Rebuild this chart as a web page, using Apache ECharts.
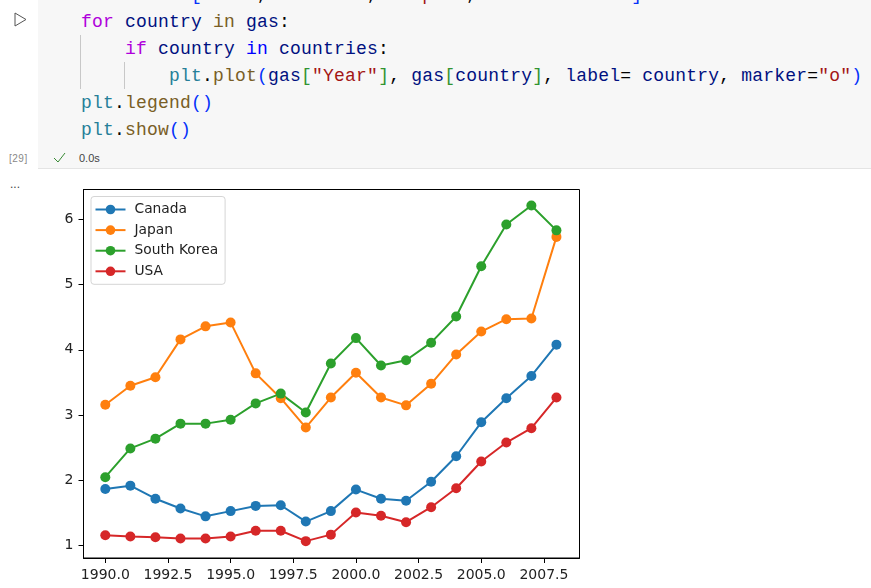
<!DOCTYPE html>
<html>
<head>
<meta charset="utf-8">
<script src="https://cdn.jsdelivr.net/npm/echarts@6/dist/echarts.min.js"></script>
<style>
  html, body { margin: 0; padding: 0; background: #fff; overflow: hidden; }
  #page { position: relative; width: 871px; height: 588px; overflow: hidden; }
  #chart { position: absolute; left: 0; top: 0; width: 871px; height: 588px; }
  #cell { position: absolute; left: 38px; top: 0; width: 833px; height: 168px; background: #f7f7f7; border-bottom: 1px solid #e4e4e4; }
  .code { position: absolute; left: 81px; font: 18px "Liberation Mono", monospace; letter-spacing: 0.2px; line-height: 27px; white-space: pre; color: #001080; }
  .kw { color: #af00db; } .fn { color: #795e26; } .str { color: #a31515; }
  .p1 { color: #0431fa; } .p2 { color: #319331; } .op { color: #000; }
  .cls { color: #267f99; } .blue { color: #0000ff; }
  .guide { position: absolute; width: 1px; background: #c8c8c8; }
  .small { position: absolute; font: 10px "Liberation Sans", sans-serif; color: #666; }
</style>
</head>
<body>
<div id="page">
  <div id="cell"></div>
  <div class="guide" style="left:80px;top:35px;height:54px"></div>
  <div class="guide" style="left:124px;top:62px;height:27px"></div>
  <div class="code" style="top:-18px"><span>countries</span><span class="op">=</span><span class="p1">[</span><span class="str">"USA"</span><span class="op">, </span><span class="str">"Canada"</span><span class="op">, </span><span class="str">"Japan"</span><span class="op">, </span><span class="str">"South Korea"</span><span class="p1">]</span></div>
  <div class="code" style="top:9px"><span class="kw">for</span> country <span class="fn">in</span> gas<span class="op">:</span></div>
  <div class="code" style="top:36px">    <span class="kw">if</span> country <span class="blue">in</span> countries<span class="op">:</span></div>
  <div class="code" style="top:63px">        <span class="cls">plt</span><span class="op">.</span><span class="fn">plot</span><span class="p1">(</span>gas<span class="p2">[</span><span class="str">"Year"</span><span class="p2">]</span><span class="op">, </span>gas<span class="p2">[</span>country<span class="p2">]</span><span class="op">, </span>label<span class="op">= </span>country<span class="op">, </span>marker<span class="op">=</span><span class="str">"o"</span><span class="p1">)</span></div>
  <div class="code" style="top:90px"><span class="cls">plt</span><span class="op">.</span><span class="fn">legend</span><span class="p1">()</span></div>
  <div class="code" style="top:117px"><span class="cls">plt</span><span class="op">.</span><span class="fn">show</span><span class="p1">()</span></div>
  <svg style="position:absolute;left:12px;top:10px" width="16" height="20"><path d="M3 3 L14 9.5 L3 16 Z" fill="none" stroke="#555" stroke-width="1"/></svg>
  <div class="small" style="left:9px;top:153px;letter-spacing:0.5px;color:#888">[29]</div>
  <svg style="position:absolute;left:52px;top:151px" width="16" height="14"><path d="M2 7 L6 11 L13 2" fill="none" stroke="#388a34" stroke-width="1"/></svg>
  <div class="small" style="left:79px;top:152px;color:#444;font-size:11px">0.0s</div>
  <div class="small" style="left:10px;top:177px;color:#444;font-size:12px">...</div>
  <div id="chart"></div>
</div>
<script>
var years = [1990, 1991, 1992, 1993, 1994, 1995, 1996, 1997, 1998, 1999,
  2000, 2001, 2002, 2003, 2004, 2005, 2006, 2007, 2008];
var canada = [1.87, 1.92, 1.72, 1.57, 1.45, 1.53, 1.61, 1.62, 1.37, 1.53,
  1.86, 1.72, 1.69, 1.98, 2.37, 2.89, 3.26, 3.60, 4.08];
var japan = [3.16, 3.45, 3.58, 4.16, 4.36, 4.42, 3.64, 3.26, 2.81, 3.27,
  3.65, 3.27, 3.15, 3.48, 3.93, 4.28, 4.47, 4.48, 5.73];
var southKorea = [2.05, 2.49, 2.64, 2.87, 2.87, 2.93, 3.18, 3.33, 3.04, 3.79,
  4.18, 3.76, 3.84, 4.11, 4.51, 5.28, 5.92, 6.21, 5.83];
var usa = [1.16, 1.14, 1.13, 1.11, 1.11, 1.14, 1.23, 1.23, 1.07, 1.17,
  1.51, 1.46, 1.36, 1.59, 1.88, 2.29, 2.58, 2.80, 3.27];
var xTicks = [1990, 1992.5, 1995, 1997.5, 2000, 2002.5, 2005, 2007.5];
var yTicks = [1, 2, 3, 4, 5, 6];

function makeSeries(name, color, values) {
  return {
    name: name,
    type: 'line',
    data: years.map(function (y, i) { return [y, values[i]]; }),
    symbol: 'circle',
    symbolSize: 10,
    showSymbol: true,
    animation: false,
    lineStyle: { color: color, width: 2 },
    itemStyle: { color: color }
  };
}

var myChart = echarts.init(document.getElementById('chart'), null, { renderer: 'canvas' });
var tickFont = { color: '#222', fontFamily: 'DejaVu Sans', fontSize: 14 };
myChart.setOption({
  animation: false,
  backgroundColor: 'transparent',
  grid: {
    left: 83.5, top: 189.5, width: 496, height: 368.5,
    show: true, borderColor: '#000', borderWidth: 1, backgroundColor: '#fff'
  },
  legend: {
    left: 91, top: 196.5,
    orient: 'vertical',
    padding: [6, 7, 6, 3.5],
    itemWidth: 30, itemHeight: 12, itemGap: 6.6,
    backgroundColor: '#fff',
    borderColor: '#d5d5d5', borderWidth: 1, borderRadius: 3,
    textStyle: { color: '#222', fontFamily: 'DejaVu Sans', fontSize: 13.8, padding: [0, 0, 0, 4] },
    data: ['Canada', 'Japan', 'South Korea', 'USA']
  },
  xAxis: {
    type: 'value',
    min: 1989.13, max: 2008.92,
    splitLine: { show: false },
    axisLine: { show: true, onZero: false, lineStyle: { color: '#000' } },
    axisTick: { show: true, length: 5, customValues: xTicks, lineStyle: { color: '#000' } },
    axisLabel: Object.assign({
      customValues: xTicks, margin: 10,
      formatter: function (v) { return v.toFixed(1); }
    }, tickFont)
  },
  yAxis: {
    type: 'value',
    min: 0.812, max: 6.456,
    splitLine: { show: false },
    axisLine: { show: true, onZero: false, lineStyle: { color: '#000' } },
    axisTick: { show: true, length: 5, customValues: yTicks, lineStyle: { color: '#000' } },
    axisLabel: Object.assign({
      customValues: yTicks, margin: 10, padding: [6, 0, 0, 0],
      formatter: function (v) { return String(v); }
    }, tickFont)
  },
  series: [
    makeSeries('Canada', '#1f77b4', canada),
    makeSeries('Japan', '#ff7f0e', japan),
    makeSeries('South Korea', '#2ca02c', southKorea),
    makeSeries('USA', '#d62728', usa)
  ]
});
</script>
</body>
</html>
